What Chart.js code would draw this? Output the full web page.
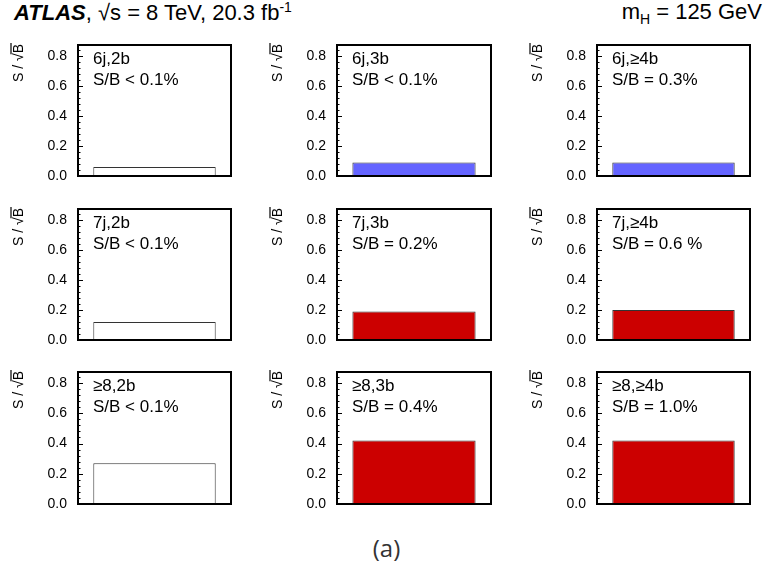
<!DOCTYPE html>
<html>
<head>
<meta charset="utf-8">
<script src="https://cdn.jsdelivr.net/npm/chart.js"></script>
<style>
  body { margin: 0; background: #fff; }
  #wrap { position: relative; width: 763px; height: 570px; font-family: "Liberation Sans", Arial, sans-serif; }
  .hdr { position: absolute; top: -1px; font-size: 22px; color: #000; white-space: nowrap; }
  .cell { position: absolute; }
  #cap { position: absolute; left: 5px; width: 763px; top: 531px; text-align: center; font-family: "Open Sans", sans-serif; font-size: 24px; color: #333; }
</style>
</head>
<body>
<div id="wrap">
  <div class="hdr" style="left:14px;"><b><i>ATLAS</i></b>, <span style="text-decoration: overline;">√s</span> = 8 TeV, 20.3 fb<sup style="font-size:14px;">-1</sup></div>
  <div class="hdr" style="right:1px;">m<sub style="font-size:14px;">H</sub> = 125 GeV</div>
  <div id="cap">(a)</div>
</div>
<script>
  // regions: jets x b-tags
  const jetLabels = ['6j', '7j', '≥8'];
  const tagLabels = ['2b', '3b', '≥4b'];
  const sOverSqrtB = [
    [0.06, 0.09, 0.09],
    [0.12, 0.19, 0.20],
    [0.27, 0.42, 0.42]
  ];
  const sOverB = [
    ['S/B < 0.1%', 'S/B < 0.1%', 'S/B = 0.3%'],
    ['S/B < 0.1%', 'S/B = 0.2%', 'S/B = 0.6 %'],
    ['S/B < 0.1%', 'S/B = 0.4%', 'S/B = 1.0%']
  ];
  const yTicks = [0, 0.2, 0.4, 0.6, 0.8];

  const colLeft = [0, 259, 519];
  const frameLeft = [78, 337, 597];
  const frameRight = [231, 491, 750];
  const frameTop = [45, 209, 372];
  const frameBottom = [176, 340, 504];

  function fillFor(r, c) {
    if (c === 0) return '#ffffff';
    if (r === 0) return '#6464ff';
    return '#cc0000';
  }

  const panelDeco = {
    id: 'panelDeco',
    afterDraw(chart) {
      const { ctx, chartArea: a, scales: { y } } = chart;
      const o = chart.options.plugins.panelDeco;
      ctx.save();
      // major + minor ticks, pointing inward
      ctx.strokeStyle = '#000';
      ctx.lineWidth = 1;
      for (let v = 0; v <= 0.86; v += 0.04) {
        const py = Math.round(y.getPixelForValue(v)) + 0.5;
        const major = Math.abs(v / 0.2 - Math.round(v / 0.2)) < 0.01;
        ctx.beginPath();
        ctx.moveTo(a.left, py);
        ctx.lineTo(a.left + (major ? 5 : 2.5), py);
        ctx.stroke();
      }
      // frame
      ctx.lineWidth = 2;
      ctx.strokeRect(a.left, a.top, a.right - a.left, a.bottom - a.top);
      // panel text
      ctx.fillStyle = '#000';
      ctx.font = '17px "Liberation Sans", Arial, sans-serif';
      ctx.textBaseline = 'alphabetic';
      ctx.fillText(o.region, a.left + 15, a.top + 19);
      ctx.fillText(o.sb, a.left + 15, a.top + 40);
      // y title "S / √B"
      ctx.translate(23, a.top + 37);
      ctx.rotate(-Math.PI / 2);
      ctx.font = '14px "Liberation Sans", Arial, sans-serif';
      ctx.textAlign = 'left';
      ctx.fillText('S / ', 0, 0);
      const w = ctx.measureText('S / ').width;
      ctx.fillText('√B', w, 0);
      const w2 = ctx.measureText('√').width;
      const wb = ctx.measureText('B').width;
      ctx.lineWidth = 1.2;
      ctx.beginPath();
      ctx.moveTo(w + w2 - 1, -12);
      ctx.lineTo(w + w2 + wb + 1, -12);
      ctx.stroke();
      ctx.restore();
    }
  };

  const wrap = document.getElementById('wrap');
  for (let r = 0; r < 3; r++) {
    for (let c = 0; c < 3; c++) {
      const padTop = 12, padBottom = 12, padRight = 4;
      const left = colLeft[c];
      const top = frameTop[r] - padTop;
      const width = frameRight[c] - left + padRight;
      const height = frameBottom[r] - frameTop[r] + padTop + padBottom;
      const div = document.createElement('div');
      div.className = 'cell';
      div.style.left = left + 'px';
      div.style.top = top + 'px';
      div.style.width = width + 'px';
      div.style.height = height + 'px';
      const cv = document.createElement('canvas');
      div.appendChild(cv);
      wrap.appendChild(div);
      const axisW = frameLeft[c] - left;

      new Chart(cv.getContext('2d'), {
        type: 'bar',
        data: {
          labels: [jetLabels[r] + ',' + tagLabels[c]],
          datasets: [{
            data: [sOverSqrtB[r][c]],
            backgroundColor: fillFor(r, c),
            borderColor: '#333',
            borderWidth: 1,
            categoryPercentage: 0.8,
            barPercentage: 1
          }]
        },
        options: {
          responsive: true,
          maintainAspectRatio: false,
          animation: false,
          layout: { padding: { top: padTop, bottom: padBottom, right: padRight, left: 0 } },
          plugins: {
            legend: { display: false },
            tooltip: { enabled: false },
            panelDeco: { region: jetLabels[r] + ',' + tagLabels[c], sb: sOverB[r][c] }
          },
          scales: {
            x: { display: false },
            y: {
              min: 0,
              max: 0.873,
              afterBuildTicks: (s) => { s.ticks = yTicks.map(v => ({ value: v })); },
              afterFit: (s) => { s.width = axisW; },
              border: { display: false },
              grid: { display: false },
              ticks: {
                padding: 3,
                color: '#000',
                font: { family: '"Liberation Sans", Arial, sans-serif', size: 14 },
                callback: (v) => Number(v).toFixed(1)
              }
            }
          }
        },
        plugins: [panelDeco]
      });
    }
  }
</script>
</body>
</html>
